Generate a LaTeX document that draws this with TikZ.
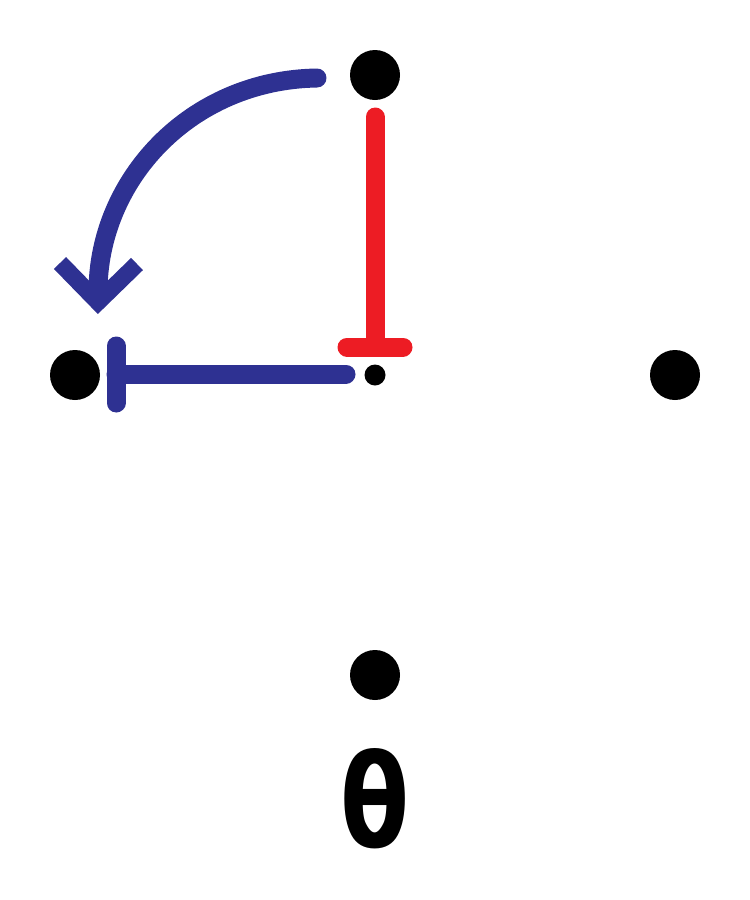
\documentclass[tikz,border=0pt]{standalone}
\usepackage{fontspec}
\newfontfamily\thetafont{DejaVu Sans}
\definecolor{bluepath}{RGB}{46,49,146}
\definecolor{redpath}{RGB}{237,28,36}
\begin{document}
\begin{tikzpicture}[x=1pt,y=-1pt,
  bigdot/.style={circle,fill=black,minimum size=50pt,inner sep=0pt},
  smalldot/.style={circle,fill=black,minimum size=21pt,inner sep=0pt},
  bluestroke/.style={draw=bluepath,line width=19pt,line cap=round},
  redstroke/.style={draw=redpath,line width=19pt,line cap=round},
  arrowhd/.style={draw=bluepath,line width=17pt,line cap=butt,line join=miter}]
\useasboundingbox (0,0) rectangle (750,900);
\node[bigdot] (top) at (375,75) {};
\node[bigdot] (left) at (75,375) {};
\node[bigdot] (right) at (675,375) {};
\node[bigdot] (bottom) at (375,675) {};
\node[smalldot] (center) at (375,375) {};
\node[inner sep=0pt,xscale=0.78] (theta) at (375,799) {\thetafont\bfseries\fontsize{129}{129}\selectfont θ};
% red T
\coordinate (r1) at (375,117);
\coordinate (r2) at (375,347);
\coordinate (rb1) at (347,347);
\coordinate (rb2) at (403,347);
\draw[redstroke] (r1) -- (r2);
\draw[redstroke] (rb1) -- (rb2);
% blue T
\coordinate (b1) at (346,374);
\coordinate (b2) at (116,374);
\coordinate (bb1) at (116,346);
\coordinate (bb2) at (116,403);
\draw[bluestroke] (b1) -- (b2);
\draw[bluestroke] (bb1) -- (bb2);
% curved arrow
\coordinate (a1) at (317,78);
\coordinate (a2) at (98,292);
\coordinate (tip) at (98,302);
\draw[bluestroke] (a1) .. controls (190,80) and (98,180) .. (a2);
\draw[arrowhd] (60,263) -- (tip) -- (137,264);
\end{tikzpicture}
\end{document}
